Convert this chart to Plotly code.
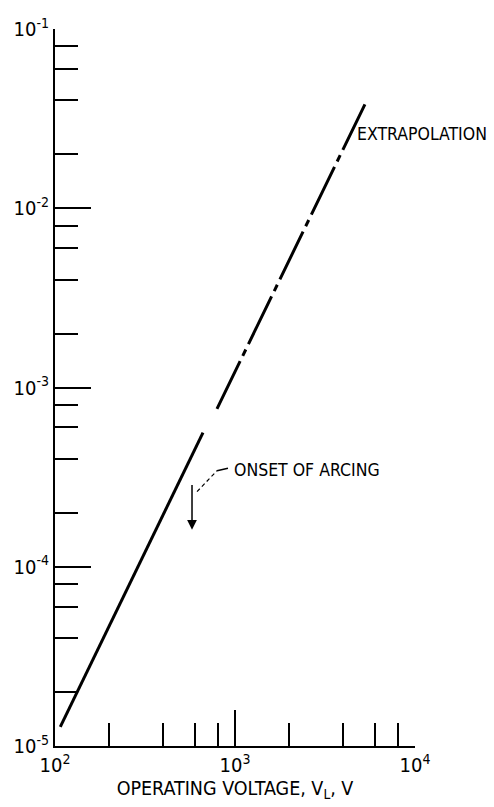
import math
import plotly.graph_objects as go

# ---- data ----
SOLID_V = [107, 664]              # operating voltage, V
SOLID_Y = [1.28e-5, 5.6e-4]
EXTRAP_V = [794, 5270]
EXTRAP_Y = [7.6e-4, 3.8e-2]
ONSET_V = 577                      # onset of arcing

X_MAJOR = [1e2, 1e3, 1e4]
X_MAJOR_TEXT = ["10<sup>2</sup>", "10<sup>3</sup>", "10<sup>4</sup>"]
Y_MAJOR = [1e-5, 1e-4, 1e-3, 1e-2, 1e-1]
Y_MAJOR_TEXT = ["10<sup>-5</sup>", "10<sup>-4</sup>", "10<sup>-3</sup>",
                "10<sup>-2</sup>", "10<sup>-1</sup>"]
MINOR_MULT = [2, 4, 6, 8]
X_DECADES = [1e2, 1e3]
Y_DECADES = [1e-5, 1e-4, 1e-3, 1e-2]

x_minor = [m * d for d in X_DECADES for m in MINOR_MULT]
y_minor = [m * d for d in Y_DECADES for m in MINOR_MULT]

FAM = "Liberation Sans Narrow, DejaVu Sans Condensed, Arial Narrow, Liberation Sans, sans-serif"


def fnt(size):
    return dict(family=FAM, size=size, color="black")


fig = go.Figure()
fig.add_trace(go.Scatter(x=SOLID_V, y=SOLID_Y, mode="lines",
                         line=dict(color="black", width=3), showlegend=False))
fig.add_trace(go.Scatter(x=EXTRAP_V, y=EXTRAP_Y, mode="lines",
                         line=dict(color="black", width=3, dash="53px,6px,7px,6px"),
                         showlegend=False))
# leader for the onset label
fig.add_trace(go.Scatter(x=[10**2.789, 10**2.900], y=[10**-3.581, 10**-3.464], mode="lines",
                         line=dict(color="black", width=1.2, dash="4px,3px"), showlegend=False))
fig.add_trace(go.Scatter(x=[10**2.900, 10**2.961], y=[10**-3.464, 10**-3.450], mode="lines",
                         line=dict(color="black", width=1.5), showlegend=False))

fig.add_annotation(x=math.log10(ONSET_V), y=-3.793, ax=math.log10(ONSET_V), ay=-3.536,
                   xref="x", yref="y", axref="x", ayref="y", text="",
                   showarrow=True, arrowhead=2, arrowsize=1.3, arrowwidth=1.5, arrowcolor="black")
fig.add_annotation(x=2.983, y=-3.458, xref="x", yref="y", text="ONSET OF ARCING",
                   showarrow=False, xanchor="left", yanchor="middle", font=fnt(17.5))
fig.add_annotation(x=3.667, y=-1.587, xref="x", yref="y", text="EXTRAPOLATION",
                   showarrow=False, xanchor="left", yanchor="middle", font=fnt(17.5))

axis_common = dict(showgrid=False, zeroline=False, showline=True, linecolor="black",
                   linewidth=2, ticks="inside", tickcolor="black", tickwidth=2,
                   ticklen=36, tickfont=fnt(20), automargin=False)

fig.update_xaxes(type="log", range=[2, 4], tickvals=X_MAJOR, ticktext=X_MAJOR_TEXT,
                 minor=dict(tickvals=x_minor, ticks="inside", ticklen=23, tickwidth=2,
                            tickcolor="black", showgrid=False),
                 title=dict(text="OPERATING VOLTAGE, V<sub>L</sub>, V", font=fnt(19.5), standoff=4),
                 **axis_common)
fig.update_yaxes(type="log", range=[-5, -1], tickvals=Y_MAJOR, ticktext=Y_MAJOR_TEXT,
                 minor=dict(tickvals=y_minor, ticks="inside", ticklen=23, tickwidth=2,
                            tickcolor="black", showgrid=False),
                 **axis_common)

fig.update_layout(width=494, height=807, margin=dict(l=55, r=79, t=29, b=61),
                  plot_bgcolor="white", paper_bgcolor="white", showlegend=False)

fig.write_html("out.html", config={"displayModeBar": False},
               post_script="document.body.style.margin='0';document.body.style.overflow='hidden';")
